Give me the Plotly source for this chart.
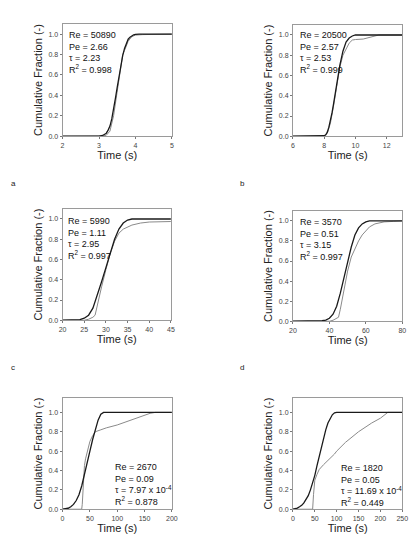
import plotly.graph_objects as go

W, H = 420, 554

# ---- data ----
time_a_model = [2.0, 2.6, 3.0, 3.1, 3.2, 3.25, 3.3, 3.35, 3.4, 3.45, 3.5, 3.55, 3.6, 3.65, 3.7, 3.75, 3.8, 3.85, 3.9, 3.95, 4.0, 4.1, 4.5, 5.0]
frac_a_model = [0, 0, 0.002, 0.008, 0.03, 0.06, 0.1, 0.17, 0.26, 0.37, 0.48, 0.6, 0.7, 0.79, 0.86, 0.91, 0.95, 0.97, 0.985, 0.993, 0.997, 1.0, 1.0, 1.0]
time_a_exp = [2.0, 2.6, 3.0, 3.1, 3.2, 3.3, 3.4, 3.5, 3.6, 3.65, 3.7, 3.8, 3.9, 4.0, 4.2, 5.0]
frac_a_exp = [0, 0, 0, 0.003, 0.01, 0.05, 0.2, 0.45, 0.7, 0.8, 0.84, 0.93, 0.975, 0.99, 0.995, 1.0]

time_b_model = [6, 7, 7.8, 8.0, 8.1, 8.2, 8.3, 8.4, 8.5, 8.6, 8.8, 9.0, 9.2, 9.4, 9.6, 9.8, 10.0, 10.5, 11, 12, 13]
frac_b_model = [0, 0, 0, 0.005, 0.015, 0.04, 0.09, 0.15, 0.23, 0.32, 0.52, 0.7, 0.84, 0.93, 0.97, 0.99, 1.0, 1.0, 1.0, 1.0, 1.0]
time_b_exp = [6, 7, 7.8, 8.0, 8.2, 8.4, 8.6, 8.8, 9.0, 9.2, 9.4, 9.6, 9.8, 10.0, 10.5, 11, 11.5, 13]
frac_b_exp = [0, 0, 0, 0.003, 0.03, 0.13, 0.3, 0.5, 0.68, 0.8, 0.86, 0.92, 0.95, 0.955, 0.96, 0.98, 1.0, 1.0]

time_c_model = [20, 22, 23, 24, 25, 26, 27, 28, 29, 30, 31, 32, 33, 34, 35, 36, 38, 45]
frac_c_model = [0, 0, 0.002, 0.006, 0.02, 0.05, 0.12, 0.24, 0.38, 0.52, 0.67, 0.8, 0.9, 0.96, 0.99, 1.0, 1.0, 1.0]
time_c_exp = [20, 25, 26, 27, 27.5, 28, 29, 30, 31, 32, 33, 34, 35, 36, 38, 40, 45]
frac_c_exp = [0, 0, 0.01, 0.03, 0.05, 0.15, 0.33, 0.5, 0.66, 0.78, 0.86, 0.9, 0.92, 0.94, 0.96, 0.97, 0.975]

time_d_model = [20, 30, 34, 36, 38, 40, 42, 44, 46, 48, 50, 52, 54, 56, 58, 60, 62, 65, 80]
frac_d_model = [0, 0, 0.002, 0.005, 0.012, 0.03, 0.07, 0.15, 0.28, 0.44, 0.6, 0.74, 0.86, 0.93, 0.97, 0.99, 1.0, 1.0, 1.0]
time_d_exp = [20, 40, 42, 44, 45, 46, 47, 48, 50, 52, 54, 55, 56, 58, 60, 62, 65, 70, 75, 80]
frac_d_exp = [0, 0, 0.01, 0.03, 0.04, 0.12, 0.22, 0.34, 0.5, 0.64, 0.72, 0.76, 0.8, 0.86, 0.9, 0.94, 0.97, 0.99, 0.995, 1.0]

time_e_model = [0, 5, 10, 15, 20, 25, 30, 35, 40, 45, 50, 55, 60, 65, 70, 75, 200]
frac_e_model = [0, 0.003, 0.01, 0.025, 0.05, 0.09, 0.15, 0.24, 0.35, 0.47, 0.6, 0.72, 0.83, 0.92, 0.98, 1.0, 1.0]
time_e_exp = [0, 35, 36, 38, 40, 42, 45, 50, 55, 60, 70, 80, 100, 120, 140, 160, 170, 200]
frac_e_exp = [0, 0, 0.05, 0.3, 0.45, 0.52, 0.6, 0.7, 0.76, 0.8, 0.82, 0.84, 0.87, 0.91, 0.95, 0.99, 1.0, 1.0]

time_f_model = [0, 5, 10, 15, 20, 25, 30, 35, 40, 45, 50, 55, 60, 65, 70, 75, 80, 85, 90, 95, 100, 250]
frac_f_model = [0, 0.005, 0.012, 0.025, 0.04, 0.065, 0.1, 0.14, 0.2, 0.27, 0.35, 0.45, 0.55, 0.65, 0.74, 0.82, 0.89, 0.94, 0.975, 0.995, 1.0, 1.0]
time_f_exp = [0, 45, 47, 50, 55, 60, 70, 80, 85, 90, 95, 100, 120, 150, 180, 200, 217, 250]
frac_f_exp = [0, 0, 0.15, 0.3, 0.36, 0.41, 0.46, 0.5, 0.52, 0.54, 0.57, 0.6, 0.69, 0.8, 0.89, 0.94, 1.0, 1.0]

panel_texts = [
    "Re = 50890<br>Pe = 2.66<br>τ = 2.23<br>R<sup>2</sup> = 0.998",
    "Re = 20500<br>Pe = 2.57<br>τ = 2.53<br>R<sup>2</sup> = 0.999",
    "Re = 5990<br>Pe = 1.11<br>τ = 2.95<br>R<sup>2</sup> = 0.997",
    "Re = 3570<br>Pe = 0.51<br>τ = 3.15<br>R<sup>2</sup> = 0.997",
    "Re = 2670<br>Pe = 0.09<br>τ = 7.97 x 10<sup>-4</sup><br>R<sup>2</sup> = 0.878",
    "Re = 1820<br>Pe = 0.05<br>τ = 11.69 x 10<sup>-4</sup><br>R<sup>2</sup> = 0.449",
]
x_ranges = [[2, 5], [6, 13], [20, 45], [20, 80], [0, 200], [0, 250]]
x_ticks = [[2, 3, 4, 5], [6, 8, 10, 12], [20, 25, 30, 35, 40, 45], [20, 40, 60, 80],
           [0, 50, 100, 150, 200], [0, 50, 100, 150, 200, 250]]
y_tops = [1.1, 1.1, 1.1, 1.1, 1.15, 1.15]
panel_letters = ["a", "b", "c", "d"]

series = [
    (time_a_model, frac_a_model, time_a_exp, frac_a_exp),
    (time_b_model, frac_b_model, time_b_exp, frac_b_exp),
    (time_c_model, frac_c_model, time_c_exp, frac_c_exp),
    (time_d_model, frac_d_model, time_d_exp, frac_d_exp),
    (time_e_model, frac_e_model, time_e_exp, frac_e_exp),
    (time_f_model, frac_f_model, time_f_exp, frac_f_exp),
]

# ---- layout (pixel boxes of each plot area) ----
boxes = [(60, 172, 24, 137), (296, 408, 25, 137),
         (60, 171, 210, 322), (296, 408, 212, 323),
         (60, 172, 400, 512), (296, 408, 400, 512)]
text_pos = [(65, 28, "left", "top"), (301, 28, "left", "top"),
            (64, 215, "left", "top"), (301, 216, "left", "top"),
            (112, 463, "left", "top"), (343, 464, "left", "top")]
letter_pos = [(5, 184), (240, 184), (5, 369), (240, 369)]

FONT = "Liberation Sans, Arial, sans-serif"
fig = go.Figure()
layout = dict(width=W, height=H, margin=dict(l=0, r=0, t=0, b=0),
              paper_bgcolor="white", plot_bgcolor="white", showlegend=False,
              font=dict(family=FONT, color="#222", size=9))
annotations = []

for i, (tm, fm, te, fe) in enumerate(series):
    n = "" if i == 0 else str(i + 1)
    xa, ya = "x" + n, "y" + n
    x0, x1, y0, y1 = boxes[i]
    fig.add_trace(go.Scatter(x=te, y=fe, mode="lines", xaxis=xa, yaxis=ya,
                             line=dict(color="#8a8a8a", width=1), hoverinfo="skip"))
    fig.add_trace(go.Scatter(x=tm, y=fm, mode="lines", xaxis=xa, yaxis=ya,
                             line=dict(color="#1a1a1a", width=1.3),
                             hoverinfo="skip"))
    axis_common = dict(showline=True, linecolor="#9a9a9a", linewidth=1, mirror=True,
                       showgrid=False, zeroline=False, ticks="outside", ticklen=2,
                       tickcolor="#777", tickfont=dict(size=7, color="#444", family=FONT))
    layout["xaxis" + n] = dict(domain=[x0 / W, x1 / W], anchor=ya, range=x_ranges[i],
                               tickvals=x_ticks[i],
                               title=dict(text="Time (s)", font=dict(size=11, family=FONT, color="#222"),
                                          standoff=3),
                               **axis_common)
    layout["yaxis" + n] = dict(domain=[1 - y1 / H, 1 - y0 / H], anchor=xa,
                               range=[0, y_tops[i]], tickvals=[0, 0.2, 0.4, 0.6, 0.8, 1.0],
                               tickformat=".1f",
                               title=dict(text="Cumulative Fraction (-)",
                                          font=dict(size=11, family=FONT, color="#222"), standoff=3),
                               **axis_common)
    tx, ty, xa_, ya_ = text_pos[i]
    annotations.append(dict(text=panel_texts[i], xref="paper", yref="paper",
                            x=tx / W, y=1 - ty / H, xanchor=xa_, yanchor=ya_,
                            align="left", showarrow=False,
                            font=dict(size=9, family=FONT, color="#111")))

for letter, (lx, ly) in zip(panel_letters, letter_pos):
    annotations.append(dict(text=letter, xref="paper", yref="paper", x=lx / W, y=1 - ly / H,
                            xanchor="left", yanchor="middle", showarrow=False,
                            font=dict(size=8, family=FONT, color="#222")))

layout["annotations"] = annotations
fig.update_layout(**layout)
fig.write_html("out.html")
